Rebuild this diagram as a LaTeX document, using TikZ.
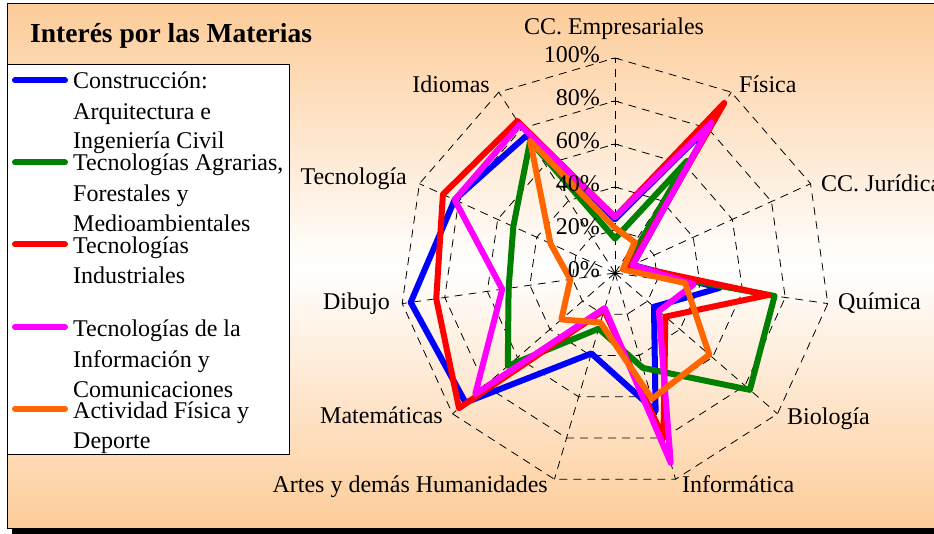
\documentclass[tikz,border=0pt]{standalone}
\usepackage{fontspec}
\setmainfont{Liberation Serif}
\usetikzlibrary{positioning}

\definecolor{peach}{RGB}{253,204,153}
\definecolor{constr}{RGB}{0,0,255}
\definecolor{agrar}{RGB}{0,128,0}
\definecolor{indus}{RGB}{255,0,0}
\definecolor{tic}{RGB}{255,0,255}
\definecolor{deporte}{RGB}{255,102,0}

\tikzset{%
    gridline/.style={black, line width=0.8pt, dash pattern=on 8pt off 6pt},
    serie/.style={line width=6pt, line join=round, line cap=round},
    catlabel/.style={font=\fontsize{24}{28}\selectfont, inner sep=0pt},
    legtext/.style={font=\fontsize{24}{28}\selectfont, inner sep=0pt,
        anchor=base west}
}

\begin{document}
\begin{tikzpicture}[x=1pt, y=-1pt]

    \useasboundingbox (0,0) rectangle (934,534);
    \clip (0,0) rectangle (934,534);

    % frame and shadow
    \fill[black] (12,10) rectangle (950,545);
    \shade[top color=peach, bottom color=peach, middle color=white]
        (7,4) rectangle (945,528);
    \draw[line width=1pt] (7,4) rectangle (945,528);

    \node[font=\fontsize{27.5}{30}\selectfont\bfseries, inner sep=0pt,
        anchor=base west] (title) at (30,43) {Interés por las Materias};

    % legend
    \draw[fill=white, line width=0.8pt] (7,64.5) rectangle (289,454.5);
    \foreach \serie/\yy in {constr/80.4, agrar/162.5, indus/244.5,
        tic/327, deporte/408.7}
        \draw[serie, draw=\serie] (15,\yy) -- (65,\yy);
    \foreach \yy/\txt [count=\i] in {89/Construcción:,
        119.5/Arquitectura e, 149/Ingeniería Civil,
        171/{Tecnologías Agrarias,}, 201.5/Forestales y,
        232/Medioambientales, 253.5/Tecnologías, 284/Industriales,
        336.5/Tecnologías de la, 367/Información y, 397/Comunicaciones,
        418/Actividad Física y, 448.5/Deporte}
        \node[legtext] (leg\i) at (73,\yy) {\txt};

    \begin{scope}[shift={(615,273)}]
        \foreach \k in {0,...,10}
            \coordinate (ax\k) at ({\k*360/11-90}:215);
        \foreach \lev in {20,40,...,100}
            \draw[gridline] (-90:{2.15*\lev}) \foreach \k in {1,...,10}{%
                -- ({\k*360/11-90}:{2.15*\lev})} -- cycle;
        \foreach \k in {0,...,10}
            \draw[gridline] (0,0) -- (ax\k);
        \foreach \lev in {0,20,...,100}
            \draw[line width=0.8pt] (-4,-2.15*\lev) -- (4,-2.15*\lev);

        % one polygon per series
        \foreach \serie/\vals in {%
            constr/{25,82,9,49,24,67,39,92,96,82,76},
            agrar/{16,62,5,75,83,46,27,66,50,52,73},
            indus/{26,94,8,72,31,80,18,96,84,88,84},
            tic/{26,83,9,37,27,92,17,86,53,82,82},
            deporte/{21,17,4,33,58,61,24,33,21,33,73}}{%
            \foreach \v [count=\k from 0] in \vals
                \coordinate (\serie\k) at ({\k*360/11-90}:{2.15*\v});
            \draw[serie, draw=\serie] (\serie0)
                \foreach \k in {1,...,10}{-- (\serie\k)} -- cycle;
        }

        \foreach \lev in {0,20,...,100}
            \node[catlabel, anchor=base east] (tick\lev)
                at (-15,-2.15*\lev+4.5) {\lev\%};
    \end{scope}

    % category labels
    \node[catlabel, anchor=base] (empresariales) at (614,35) {CC. Empresariales};
    \node[catlabel, anchor=base west] (fisica) at (739,93) {Física};
    \node[catlabel, anchor=base west] (juridica) at (821,192) {CC. Jurídica};
    \node[catlabel, anchor=base west] (quimica) at (838,310) {Química};
    \node[catlabel, anchor=base west] (biologia) at (787,424) {Biología};
    \node[catlabel, anchor=base west] (informatica) at (682,492) {Informática};
    \node[catlabel, anchor=base east] (artes) at (548,492) {Artes y demás Humanidades};
    \node[catlabel, anchor=base east] (matematicas) at (443,423) {Matemáticas};
    \node[catlabel, anchor=base east] (dibujo) at (390,310) {Dibujo};
    \node[catlabel, anchor=base east] (tecnologia) at (407,185) {Tecnología};
    \node[catlabel, anchor=base east] (idiomas) at (490,93) {Idiomas};

\end{tikzpicture}
\end{document}
